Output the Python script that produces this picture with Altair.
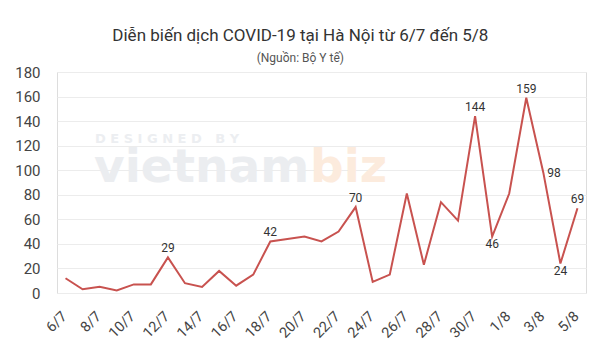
import altair as alt
import pandas as pd

dates = ["6/7", "7/7", "8/7", "9/7", "10/7", "11/7", "12/7", "13/7", "14/7", "15/7",
         "16/7", "17/7", "18/7", "19/7", "20/7", "21/7", "22/7", "23/7", "24/7", "25/7",
         "26/7", "27/7", "28/7", "29/7", "30/7", "31/7", "1/8", "2/8", "3/8", "4/8", "5/8"]
cases = [12, 3, 5, 2, 7, 7, 29, 8, 5, 18,
         6, 15, 42, 44, 46, 42, 50, 70, 9, 15,
         81, 23, 74, 59, 144, 46, 81, 159, 98, 24, 69]

label_above = ["12/7", "18/7", "23/7", "30/7", "2/8", "5/8"]
label_below = ["31/7", "4/8"]
label_right = ["3/8"]
tick_labels = dates[::2]
y_ticks = [0, 20, 40, 60, 80, 100, 120, 140, 160, 180]

df = pd.DataFrame({"date": dates, "cases": cases})

FONT = "Roboto"
RED = "#c8524f"

x_enc = alt.X("date:N", sort=dates,
              scale=alt.Scale(type="point", padding=0.5),
              axis=alt.Axis(values=tick_labels, labelAngle=-45, labelFontSize=14.5,
                            labelColor="#444", labelFont=FONT, domain=False, ticks=False,
                            labelPadding=16, labelOffset=-6, title=None, grid=False))
y_enc = alt.Y("cases:Q", scale=alt.Scale(domain=[0, 180], nice=False),
              axis=alt.Axis(values=y_ticks, labelFontSize=15, labelColor="#444",
                            labelFont=FONT, domain=False, ticks=False, labelPadding=17,
                            gridColor="#ececec", gridWidth=1, title=None))

base = alt.Chart(df)

NB = "\u00a0"
wm1 = alt.Chart(pd.DataFrame({"t": [NB.join("DESIGNED") + NB * 3 + NB.join("BY")]})).mark_text(
    font="DejaVu Sans", fontSize=13, fontWeight="bold", color="#eceef1", align="left",
    baseline="alphabetic"
).encode(text="t:N", x=alt.value(38), y=alt.value(71))
wm2 = alt.Chart(pd.DataFrame({"t": ["vietnam"]})).mark_text(
    font="DejaVu Sans", fontSize=47, fontWeight="bold", color="#ebedf0", align="left",
    baseline="alphabetic"
).encode(text="t:N", x=alt.value(37), y=alt.value(110))
wm3 = alt.Chart(pd.DataFrame({"t": ["biz"]})).mark_text(
    font="DejaVu Sans", fontSize=47, fontWeight="bold", color="#fcebdd", align="left",
    baseline="alphabetic"
).encode(text="t:N", x=alt.value(253), y=alt.value(110))

line = base.mark_line(color=RED, strokeWidth=2).encode(x=x_enc, y=y_enc)

txt_style = dict(font=FONT, fontSize=12, color="#333")
above = base.transform_filter(alt.FieldOneOfPredicate(field="date", oneOf=label_above)).mark_text(
    baseline="alphabetic", dy=-5, **txt_style).encode(x=x_enc, y=y_enc, text="cases:Q")
below = base.transform_filter(alt.FieldOneOfPredicate(field="date", oneOf=label_below)).mark_text(
    baseline="top", dy=2, **txt_style).encode(x=x_enc, y=y_enc, text="cases:Q")
right = base.transform_filter(alt.FieldOneOfPredicate(field="date", oneOf=label_right)).mark_text(
    baseline="middle", align="left", dx=4, **txt_style).encode(x=x_enc, y=y_enc, text="cases:Q")

chart = alt.layer(wm1, wm2, wm3, line, above, below, right).properties(
    width=529, height=221,
    title=alt.TitleParams(
        text="Diễn biến dịch COVID-19 tại Hà Nội từ 6/7 đến 5/8",
        subtitle="(Nguồn: Bộ Y tế)",
        font=FONT, fontSize=17, fontWeight="normal", color="#333",
        subtitleFont=FONT, subtitleFontSize=12, subtitleColor="#555",
        subtitlePadding=8, anchor="middle", frame="bounds", offset=0),
    autosize=alt.AutoSizeParams(type="none"),
    padding={"left": 57, "top": 72, "right": 14, "bottom": 59},
).configure_view(stroke=None).configure(background="white")

chart.save("out.html", embed_options={"renderer": "svg", "actions": False})
